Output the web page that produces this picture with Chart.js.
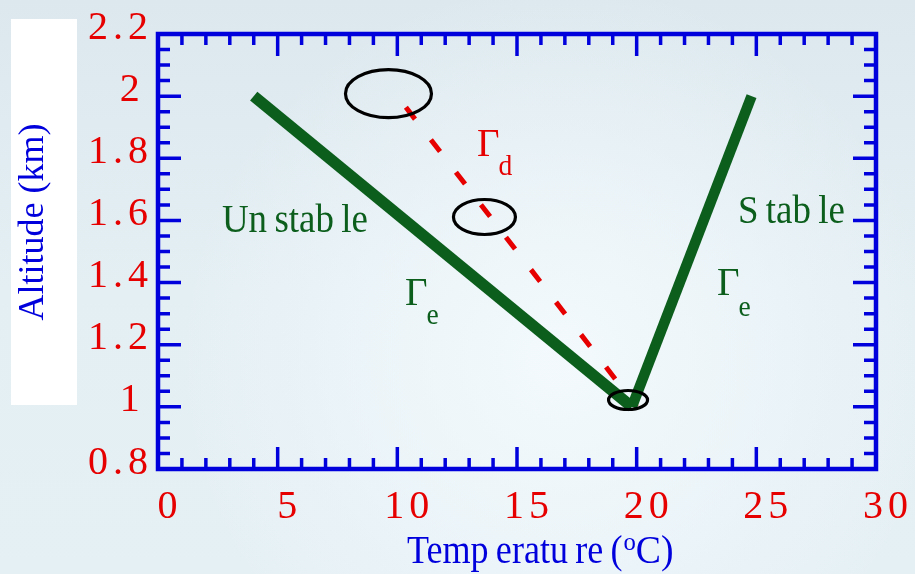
<!DOCTYPE html>
<html>
<head>
<meta charset="utf-8">
<title>Lapse rates</title>
<script src="https://cdn.jsdelivr.net/npm/chart.js@4.4.1/dist/chart.umd.min.js"></script>
<style>
  html, body { margin: 0; padding: 0; background: #e2edf2; }
  #wrap { width: 915px; height: 574px; }
</style>
</head>
<body>
<div id="wrap"><canvas id="lapseChart" width="915" height="574"></canvas></div>
<script>
// environmental profiles, temperature (°C) against altitude (km)
const unstableTemp = [4.0, 19.8];
const unstableAlt = [2.0, 1.0];
const stableTemp = [19.8, 24.8];
const stableAlt = [1.0, 2.0];

// dry adiabat followed by a rising parcel
const dryTemp = [10.0, 20.0];
const dryAlt = [2.0, 1.0];

// parcel positions circled along the way
const ringTemp = [9.63, 13.64, 19.64];
const ringAlt = [2.008, 1.611, 1.022];

const xTicks = [0, 5, 10, 15, 20, 25, 30];
const yTicks = [0.8, 1.0, 1.2, 1.4, 1.6, 1.8, 2.0, 2.2];

const GREEN = '#0b5e1c';
const RED = '#e60000';
const BLUE = '#0000dd';
const SERIF = "'Liberation Serif', 'Times New Roman', serif";

function points(xs, ys) {
  return xs.map((x, i) => ({ x: x, y: ys[i] }));
}

// narrow serif text, as in the printed labels
function narrowText(ctx, text, x, y, size, squeeze) {
  ctx.save();
  ctx.font = size + 'px ' + SERIF;
  ctx.translate(x, y);
  ctx.scale(squeeze, 1);
  ctx.fillText(text, 0, 0);
  const w = ctx.measureText(text).width * squeeze;
  ctx.restore();
  return w;
}

const lapsePlugin = {
  id: 'lapse',
  beforeDraw(chart) {
    const ctx = chart.ctx;
    const w = chart.width, h = chart.height;
    ctx.save();
    let g = ctx.createLinearGradient(0, 0, 0, h);
    g.addColorStop(0, '#dce8ee');
    g.addColorStop(0.5, '#e4eff4');
    g.addColorStop(1, '#e5f0f5');
    ctx.fillStyle = g;
    ctx.fillRect(0, 0, w, h);
    g = ctx.createRadialGradient(560, 360, 20, 560, 360, 380);
    g.addColorStop(0, 'rgba(244,250,253,0.9)');
    g.addColorStop(1, 'rgba(244,250,253,0)');
    ctx.fillStyle = g;
    ctx.fillRect(0, 0, w, h);
    // white panel behind the altitude title
    ctx.fillStyle = '#ffffff';
    ctx.fillRect(11, 19, 66, 386);
    ctx.restore();
    // spaced-out tick numbers
    ctx.letterSpacing = '5px';
  },
  beforeDatasetsDraw(chart) {
    const ctx = chart.ctx;
    ctx.letterSpacing = '0px';
    const a = chart.chartArea;
    const xs = chart.scales.x, ys = chart.scales.y;
    ctx.save();
    ctx.strokeStyle = BLUE;
    ctx.lineWidth = 3.5;
    ctx.lineCap = 'butt';
    ctx.beginPath();
    // inward ticks on all four sides
    for (let i = 0; i <= 30; i++) {
      const px = xs.getPixelForValue(i);
      const len = i % 5 === 0 ? 22 : 11;
      ctx.moveTo(px, a.bottom); ctx.lineTo(px, a.bottom - len);
      ctx.moveTo(px, a.top); ctx.lineTo(px, a.top + len);
    }
    for (let k = 16; k <= 44; k++) {
      const py = ys.getPixelForValue(k * 0.05);
      const len = k % 4 === 0 ? 23 : 12;
      ctx.moveTo(a.left, py); ctx.lineTo(a.left + len, py);
      ctx.moveTo(a.right, py); ctx.lineTo(a.right - len, py);
    }
    ctx.stroke();
    ctx.lineWidth = 4.5;
    ctx.lineJoin = 'miter';
    ctx.strokeRect(a.left, a.top, a.right - a.left, a.bottom - a.top);
    ctx.restore();
  },
  afterDatasetsDraw(chart) {
    const ctx = chart.ctx;
    const xs = chart.scales.x, ys = chart.scales.y;
    const ringSize = [[43, 24], [31, 17.5], [19.5, 9.5]];
    ctx.save();
    ctx.strokeStyle = '#000000';
    ctx.lineWidth = 3.2;
    ringTemp.forEach((t, i) => {
      ctx.beginPath();
      ctx.ellipse(xs.getPixelForValue(t), ys.getPixelForValue(ringAlt[i]),
        ringSize[i][0], ringSize[i][1], 0, 0, Math.PI * 2);
      ctx.stroke();
    });

    ctx.textAlign = 'left';
    ctx.textBaseline = 'alphabetic';
    function word(text, t, alt, color) {
      ctx.fillStyle = color;
      narrowText(ctx, text, xs.getPixelForValue(t), ys.getPixelForValue(alt), 41, 0.9);
    }
    function gamma(sub, t, alt, color, drop) {
      const x = xs.getPixelForValue(t), y = ys.getPixelForValue(alt);
      ctx.fillStyle = color;
      const gw = narrowText(ctx, '\u0393', x, y, 41, 0.95);
      narrowText(ctx, sub, x + gw - 1, y + drop, 29, 0.95);
    }
    word('Un\u2009stab\u2009le', 2.67, 1.563, GREEN);
    word('S\u2009tab\u2009le', 24.23, 1.592, GREEN);
    gamma('e', 10.32, 1.328, GREEN, 19);
    gamma('e', 23.36, 1.360, GREEN, 21);
    gamma('d', 13.33, 1.807, RED, 19);

    // axis titles
    ctx.fillStyle = BLUE;
    let x = 407;
    const base = 563;
    x += narrowText(ctx, 'Temp\u2009eratu\u2009re\u2009(', x, base, 41, 0.88);
    x += narrowText(ctx, 'o', x + 1, base - 13, 26, 0.95) + 1;
    narrowText(ctx, 'C)', x, base, 41, 0.92);

    ctx.translate(43, 222);
    ctx.rotate(-Math.PI / 2);
    ctx.textAlign = 'center';
    ctx.font = '36px ' + SERIF;
    ctx.fillText('Altitude (km)', 0, 0);
    ctx.restore();
  }
};

const ctx = document.getElementById('lapseChart').getContext('2d');
const lapseChart = new Chart(ctx, {
  type: 'scatter',
  data: {
    datasets: [{
      label: 'Unstable',
      data: points(unstableTemp, unstableAlt),
      showLine: true,
      borderColor: GREEN,
      borderWidth: 11.5,
      borderCapStyle: 'butt',
      pointRadius: 0
    }, {
      label: 'Stable',
      data: points(stableTemp, stableAlt),
      showLine: true,
      borderColor: GREEN,
      borderWidth: 10.5,
      borderCapStyle: 'butt',
      pointRadius: 0
    }, {
      label: 'Dry adiabat',
      data: points(dryTemp, dryAlt),
      showLine: true,
      borderColor: RED,
      borderWidth: 5,
      borderDash: [15, 26],
      borderDashOffset: 27,
      borderCapStyle: 'butt',
      pointRadius: 0
    }]
  },
  options: {
    responsive: false,
    animation: false,
    events: [],
    layout: {
      padding: { left: 0, top: 34, right: 39, bottom: 0 }
    },
    plugins: {
      legend: { display: false },
      tooltip: { enabled: false }
    },
    scales: {
      x: {
        type: 'linear',
        min: 0,
        max: 30,
        grid: { display: false, drawTicks: false },
        border: { display: false },
        afterBuildTicks: s => { s.ticks = xTicks.map(v => ({ value: v })); },
        afterFit: s => { s.height = 105; },
        ticks: {
          color: RED,
          font: { family: SERIF, size: 40 },
          padding: 14,
          labelOffset: 12,
          maxRotation: 0,
          autoSkip: false,
          callback: v => String(v)
        }
      },
      y: {
        type: 'linear',
        min: 0.8,
        max: 2.2,
        grid: { display: false, drawTicks: false },
        border: { display: false },
        afterBuildTicks: s => { s.ticks = yTicks.map(v => ({ value: v })); },
        afterFit: s => { s.width = 158; },
        ticks: {
          color: RED,
          font: { family: SERIF, size: 40 },
          padding: 5,
          labelOffset: -6,
          autoSkip: false,
          callback: v => Number.isInteger(v) ? String(v) + '\u200A' : v.toFixed(1)
        }
      }
    }
  },
  plugins: [lapsePlugin]
});
</script>
</body>
</html>
